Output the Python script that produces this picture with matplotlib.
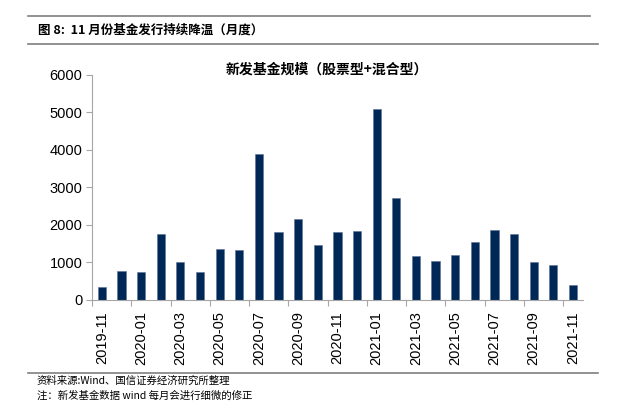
import matplotlib
matplotlib.use("Agg")
import matplotlib.pyplot as plt
import numpy as np

plt.rcParams["font.family"] = ["Liberation Sans", "Noto Sans CJK SC", "DejaVu Sans"]

# monthly new fund issuance (stock + hybrid), 100m CNY
months = [
    "2019-11", "2019-12", "2020-01", "2020-02", "2020-03", "2020-04", "2020-05",
    "2020-06", "2020-07", "2020-08", "2020-09", "2020-10", "2020-11", "2020-12",
    "2021-01", "2021-02", "2021-03", "2021-04", "2021-05", "2021-06", "2021-07",
    "2021-08", "2021-09", "2021-10", "2021-11",
]
issuance = [
    350, 780, 740, 1760, 1000, 750, 1350, 1340, 3890, 1820, 2160, 1460, 1820,
    1840, 5100, 2725, 1180, 1040, 1200, 1540, 1870, 1760, 1010, 940, 400,
]

cjk = ["Noto Sans CJK SC", "DejaVu Sans"]
bar_color = "#002856"
axis_color = "#a6a6a6"

fig = plt.figure(figsize=(6.26, 4.01), dpi=100)
ax = fig.add_axes([0.147, 0.252, 0.784, 0.561])

x = np.arange(len(months))
ax.bar(x, issuance, width=0.42, color=bar_color, edgecolor="#5a7296", linewidth=0.4)

ax.set_xlim(-0.5, len(months) - 0.5)
ax.set_ylim(0, 6000)
ax.set_yticks(np.arange(0, 6001, 1000))
ax.tick_params(axis="y", length=4, color=axis_color, labelsize=10.5, pad=3)

# ticks on the boundaries, labels under every other bar
ax.set_xticks(np.arange(-0.5, len(months), 2))
ax.set_xticklabels([])
ax.set_xticks(x[::2], minor=True)
ax.set_xticklabels(months[::2], minor=True, rotation=90, fontsize=10.5)
ax.tick_params(axis="x", which="major", length=4, color=axis_color)
ax.tick_params(axis="x", which="minor", length=0, pad=8)

for side in ["top", "right"]:
    ax.spines[side].set_visible(False)
ax.spines["left"].set_color(axis_color)
ax.spines["bottom"].set_color(axis_color)

fig.text(327 / 626, 1 - 70 / 401, "新发基金规模（股票型+混合型）", family=cjk,
         fontsize=10, fontweight="bold", ha="center", va="center")

# figure header and footer
fig.add_artist(plt.Line2D([28 / 626, 590 / 626], [1 - 16 / 401, 1 - 16 / 401],
                          color="#7f7f7f", lw=1.2))
fig.add_artist(plt.Line2D([28 / 626, 598 / 626], [1 - 44 / 401, 1 - 44 / 401],
                          color="#7f7f7f", lw=1.2))
fig.text(38 / 626, 1 - 30 / 401, "图 8:  11 月份基金发行持续降温（月度）", family=cjk,
         fontsize=9, fontweight="bold", va="center", ha="left")

fig.add_artist(plt.Line2D([28 / 626, 598 / 626], [1 - 373 / 401, 1 - 373 / 401],
                          color="#7f7f7f", lw=1.2))
fig.text(37 / 626, 1 - 381 / 401, "资料来源:Wind、国信证券经济研究所整理", family=cjk,
         fontsize=7.5, va="center", ha="left")
fig.text(37 / 626, 1 - 396 / 401, "注：新发基金数据 wind 每月会进行细微的修正", family=cjk,
         fontsize=7.5, va="center", ha="left")

fig.savefig("out.png", dpi=100)
